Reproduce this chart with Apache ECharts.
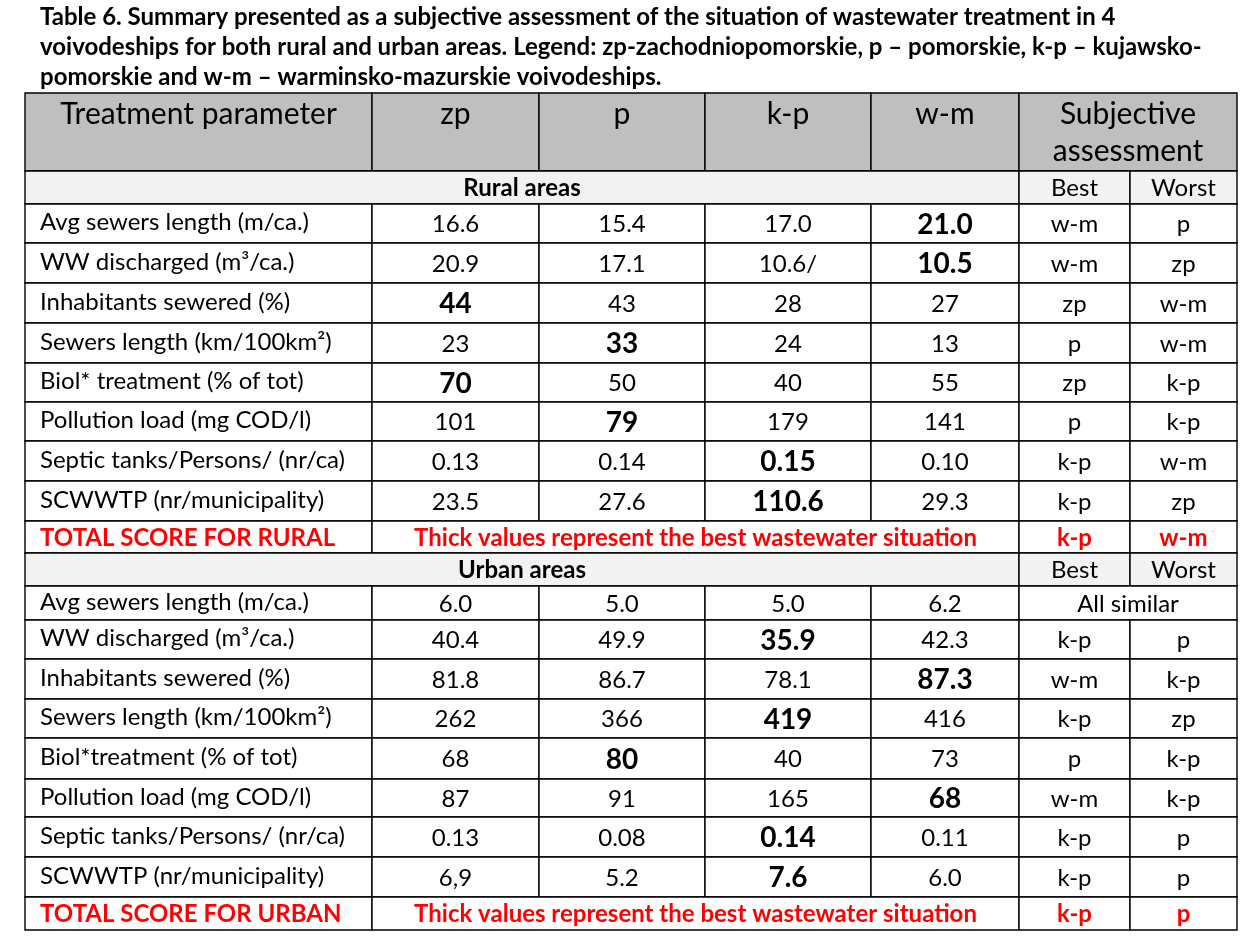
<!DOCTYPE html>
<html>
<head>
<meta charset="utf-8">
<script src="https://cdn.jsdelivr.net/npm/echarts@6.0.0/dist/echarts.min.js"></script>
<style>html,body{margin:0;background:#fff}#chart{width:1249px;height:937px}</style>
</head>
<body>
<div id="chart"></div>
<script>
// table content
const titleLines = [
  'Table 6. Summary presented as a subjective assessment of the situation of wastewater treatment in 4',
  'voivodeships for both rural and urban areas. Legend: zp-zachodniopomorskie, p \u2013 pomorskie, k-p \u2013 kujawsko-',
  'pomorskie and w-m \u2013 warminsko-mazurskie voivodeships.'
];
const headers = ['Treatment parameter', 'zp', 'p', 'k-p', 'w-m', 'Subjective\nassessment'];
const regions = ['zp', 'p', 'k-p', 'w-m'];

const ruralParams = ['Avg sewers length (m/ca.)', 'WW discharged (m\u00b3/ca.)', 'Inhabitants sewered (%)',
  'Sewers length (km/100km\u00b2)', 'Biol* treatment (% of tot)', 'Pollution load (mg COD/l)',
  'Septic tanks/Persons/ (nr/ca)', 'SCWWTP (nr/municipality)'];
const ruralZp = ['16.6', '20.9', '44', '23', '70', '101', '0.13', '23.5'];
const ruralP = ['15.4', '17.1', '43', '33', '50', '79', '0.14', '27.6'];
const ruralKp = ['17.0', '10.6/', '28', '24', '40', '179', '0.15', '110.6'];
const ruralWm = ['21.0', '10.5', '27', '13', '55', '141', '0.10', '29.3'];
const ruralBest = ['w-m', 'w-m', 'zp', 'p', 'zp', 'p', 'k-p', 'k-p'];
const ruralWorst = ['p', 'zp', 'w-m', 'w-m', 'k-p', 'k-p', 'w-m', 'zp'];
const ruralTotal = ['k-p', 'w-m'];

const urbanParams = ['Avg sewers length (m/ca.)', 'WW discharged (m\u00b3/ca.)', 'Inhabitants sewered (%)',
  'Sewers length (km/100km\u00b2)', 'Biol*treatment (% of tot)', 'Pollution load (mg COD/l)',
  'Septic tanks/Persons/ (nr/ca)', 'SCWWTP (nr/municipality)'];
const urbanZp = ['6.0', '40.4', '81.8', '262', '68', '87', '0.13', '6,9'];
const urbanP = ['5.0', '49.9', '86.7', '366', '80', '91', '0.08', '5.2'];
const urbanKp = ['5.0', '35.9', '78.1', '419', '40', '165', '0.14', '7.6'];
const urbanWm = ['6.2', '42.3', '87.3', '416', '73', '68', '0.11', '6.0'];
const urbanBest = ['All similar', 'k-p', 'w-m', 'k-p', 'p', 'w-m', 'k-p', 'k-p'];
const urbanWorst = ['', 'p', 'k-p', 'zp', 'k-p', 'k-p', 'p', 'p'];
const urbanTotal = ['k-p', 'p'];

const note = 'Thick values represent the best wastewater situation';

// layout (px)
const colWidths = [347, 167, 166, 166, 148, 111, 107];
const rowHeights = [78, 33, 39, 40, 40, 40, 39, 39, 40, 40, 32, 33, 34, 39, 40, 39, 41, 38, 40, 40, 33];
const FONT = 'Lato, "Open Sans", sans-serif';
const HEAD_FILL = '#bfbfbf';
const BAND_FILL = '#f2f2f2';
const RED = '#ff0000';

const colEdges = [0];
colWidths.forEach(w => colEdges.push(colEdges[colEdges.length - 1] + w));
const rowEdges = [0];
rowHeights.forEach(h => rowEdges.push(rowEdges[rowEdges.length - 1] + h));

const cells = [];
function cell(r, c0, c1, text, kind, fill) {
  cells.push({ r, c0, c1, text, kind, fill: fill || '#fff' });
}

// header row
headers.forEach((h, i) => {
  if (i < 5) cell(0, i, i, h, 'header', HEAD_FILL);
  else cell(0, 5, 6, h, 'header', HEAD_FILL);
});

function section(startRow, label, params, cols, best, worst, total, totalLabel) {
  cell(startRow, 0, 4, label, 'band', BAND_FILL);
  cell(startRow, 5, 5, 'Best', 'plain', BAND_FILL);
  cell(startRow, 6, 6, 'Worst', 'plain', BAND_FILL);
  params.forEach((p, i) => {
    const r = startRow + 1 + i;
    cell(r, 0, 0, p, 'param');
    cols.forEach((vals, j) => {
      cell(r, j + 1, j + 1, vals[i], regions[j] === best[i] ? 'bold' : 'plain');
    });
    if (worst[i]) {
      cell(r, 5, 5, best[i], 'plain');
      cell(r, 6, 6, worst[i], 'plain');
    } else {
      cell(r, 5, 6, best[i], 'plain');
    }
  });
  const tr = startRow + 1 + params.length;
  cell(tr, 0, 0, totalLabel, 'redLeft');
  cell(tr, 1, 4, note, 'red');
  cell(tr, 5, 5, total[0], 'red');
  cell(tr, 6, 6, total[1], 'red');
}

section(1, 'Rural areas', ruralParams, [ruralZp, ruralP, ruralKp, ruralWm], ruralBest, ruralWorst, ruralTotal, 'TOTAL SCORE FOR RURAL');
section(11, 'Urban areas', urbanParams, [urbanZp, urbanP, urbanKp, urbanWm], urbanBest, urbanWorst, urbanTotal, 'TOTAL SCORE FOR URBAN');

const cellData = cells.map(c => [colEdges[c.c0], colEdges[c.c1 + 1], rowEdges[c.r], rowEdges[c.r + 1]]);

function textStyle(c, x0, x1, y0, y1) {
  const base = { text: c.text, fontFamily: FONT, fill: '#000', align: 'center', verticalAlign: 'middle',
    x: (x0 + x1) / 2, y: (y0 + y1) / 2 + 1, fontSize: 24, fontWeight: 'normal' };
  switch (c.kind) {
    case 'header':
      return Object.assign(base, { fontSize: 30, verticalAlign: 'top', y: y0 + 3, lineHeight: 37 });
    case 'band':
      return Object.assign(base, { fontWeight: 'bold' });
    case 'param':
      return Object.assign(base, { align: 'left', x: x0 + 15, y: (y0 + y1) / 2 - 1 });
    case 'bold':
      return Object.assign(base, { fontWeight: 'bold', fontSize: 28 });
    case 'red':
      return Object.assign(base, { fontWeight: 'bold', fill: RED });
    case 'redLeft':
      return Object.assign(base, { fontWeight: 'bold', fill: RED, align: 'left', x: x0 + 15 });
    default:
      return base;
  }
}

const chart = echarts.init(document.getElementById('chart'));
chart.setOption({
  animation: false,
  backgroundColor: '#fff',
  title: {
    text: titleLines.join('\n'),
    left: 40,
    top: 2,
    padding: 0,
    textStyle: { fontFamily: FONT, fontSize: 24, fontWeight: 'bold', color: '#000', lineHeight: 30 }
  },
  grid: { left: 25, top: 93, width: colEdges[colEdges.length - 1], height: rowEdges[rowEdges.length - 1] },
  xAxis: { type: 'value', min: 0, max: colEdges[colEdges.length - 1], show: false },
  yAxis: { type: 'value', min: 0, max: rowEdges[rowEdges.length - 1], inverse: true, show: false },
  series: [{
    type: 'custom',
    silent: true,
    clip: false,
    data: cellData,
    renderItem: function (params, api) {
      const c = cells[params.dataIndex];
      const p0 = api.coord([api.value(0), api.value(2)]);
      const p1 = api.coord([api.value(1), api.value(3)]);
      return {
        type: 'group',
        children: [
          { type: 'rect', shape: { x: p0[0], y: p0[1], width: p1[0] - p0[0], height: p1[1] - p0[1] },
            style: { fill: c.fill, stroke: '#000', lineWidth: 1.4 } },
          { type: 'text', style: textStyle(c, p0[0], p1[0], p0[1], p1[1]) }
        ]
      };
    }
  }]
});
</script>
</body>
</html>
